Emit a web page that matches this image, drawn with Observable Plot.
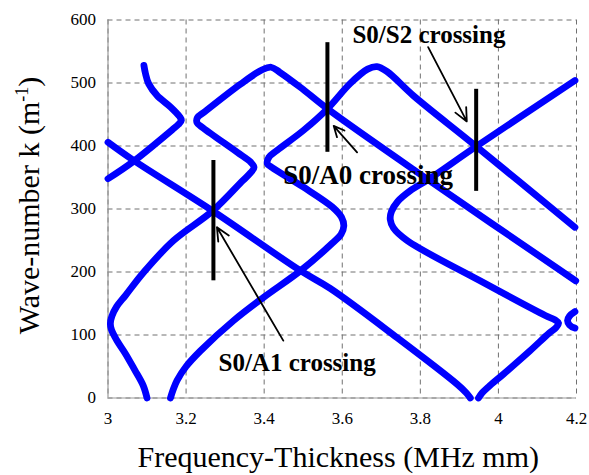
<!DOCTYPE html>
<html><head><meta charset="utf-8">
<script src="https://cdn.jsdelivr.net/npm/d3@7"></script>
<script src="https://cdn.jsdelivr.net/npm/@observablehq/plot@0.6"></script>
<style>body{margin:0;background:#fff;} #chart svg{display:block;}</style>
</head><body><div id="chart"></div>
<script>
const xTicks = [3, 3.2, 3.4, 3.6, 3.8, 4, 4.2];
const yTicks = [0, 100, 200, 300, 400, 500, 600];
const xTitle = "Frequency-Thickness (MHz mm)";
const yTitle = "Wave-number k (m-1)";

// dispersion branches [frequency-thickness, wave-number]
const curveA = [[3.100,0],[3.090,20],[3.068,45],[3.045,70],[3.022,92],[3.009,108],[3.006,118],[3.010,130],[3.022,145],[3.045,163],[3.092,200],[3.168,250],[3.268,297],[3.345,345],[3.366,358],[3.374,366],[3.366,374],[3.331,390],[3.245,428],[3.228,437],[3.229,445],[3.249,455],[3.339,498],[3.395,521],[3.418,525],[3.440,517],[3.493,493],[3.562,459],[3.821,346],[4.198,186]];
const curveB = [[3.092,528],[3.096,515],[3.104,499],[3.126,480],[3.160,462],[3.183,447],[3.188,441],[3.180,434],[3.165,426],[3.064,375],[3.000,348]];
const curveC = [[3.000,406],[3.066,377],[3.268,297],[3.493,202],[3.569,174],[3.740,96],[3.894,22],[3.918,8],[3.928,0]];
const curveD = [[3.160,0],[3.168,15],[3.177,28],[3.200,50],[3.237,75],[3.322,123],[3.399,160],[3.493,202],[3.575,246],[3.597,260],[3.604,273],[3.598,287],[3.575,303],[3.500,335],[3.420,366],[3.408,372],[3.412,382],[3.433,393],[3.501,425],[3.562,459],[3.620,499],[3.665,522],[3.689,526],[3.715,518],[3.782,480],[3.940,401],[4.196,271]];
const curveE = [[4.196,504],[3.940,398],[3.821,347],[3.774,329],[3.742,312],[3.726,296],[3.723,283],[3.731,270],[3.766,250],[3.953,186],[4.120,131],[4.145,124],[4.154,119],[4.148,112],[4.130,103],[4.081,75],[4.013,38],[3.975,18],[3.958,8],[3.949,0]];
const curveF = [[4.196,137],[4.182,130],[4.177,123],[4.182,116],[4.196,111]];

// annotations
const labels = ["S0/A1 crossing", "S0/A0 crossing", "S0/S2 crossing"];
const labelX = [3.283, 3.449, 3.626];
const labelY = [56, 353, 576];
const barX = [3.270, 3.562, 3.943];
const barY1 = [186, 390, 328];
const barY2 = [377, 564, 490];
const arrowX1 = [3.449, 3.638, 3.820];
const arrowY1 = [91, 390, 557];
const arrowX2 = [3.279, 3.578, 3.919];
const arrowY2 = [271, 432, 439];

const curves = [curveA, curveB, curveC, curveD, curveE, curveF];
const rows = curves.flatMap((c, i) => c.map(([x, y]) => ({x, y, id: i})));
const idx = [0, 1, 2];
const serif = "'Liberation Serif', 'Times New Roman', serif";
const labelSizes = [25, 27, 25];

const chart = Plot.plot({
  width: 589, height: 475,
  marginLeft: 107.5, marginRight: 13, marginTop: 19.5, marginBottom: 77.5,
  style: {fontFamily: serif, fontSize: "17px", color: "#000", background: "#fff"},
  x: {domain: [3, 4.2], label: null},
  y: {domain: [0, 600], label: null},
  marks: [
    Plot.gridX(xTicks, {stroke: "#707070", strokeOpacity: 1, strokeDasharray: "5,4"}),
    Plot.gridY(yTicks, {stroke: "#707070", strokeOpacity: 1, strokeDasharray: "5,4"}),
    Plot.ruleX([3], {stroke: "#9a9a9a", strokeWidth: 1.2}),
    Plot.ruleY([0], {stroke: "#9a9a9a", strokeWidth: 1.2}),
    Plot.axisX(xTicks, {tickSize: 0, tickPadding: 14, tickFormat: d => String(d), label: null, fill: "#000"}),
    Plot.axisY(yTicks, {tickSize: 0, tickPadding: 12, tickFormat: d => String(d), label: null, fill: "#000"}),
    Plot.line(rows, {x: "x", y: "y", z: "id", curve: "catmull-rom", stroke: "#0000ff", strokeWidth: 6.8, strokeLinecap: "round", strokeLinejoin: "round"}),
    Plot.ruleX(idx, {x: i => barX[i], y1: i => barY1[i], y2: i => barY2[i], stroke: "#000", strokeWidth: 4}),
    Plot.arrow(idx, {x1: i => arrowX1[i], y1: i => arrowY1[i], x2: i => arrowX2[i], y2: i => arrowY2[i], stroke: "#000", strokeWidth: 1.8, headLength: 12, headAngle: 50}),
    ...idx.map(i => Plot.text([labels[i]], {x: () => labelX[i], y: () => labelY[i], text: d => d, textAnchor: "start", lineAnchor: "middle", fontWeight: "bold", fontSize: labelSizes[i], fill: "#000"})),
    Plot.text([xTitle], {frameAnchor: "bottom", dx: -4, dy: 59, textAnchor: "middle", lineAnchor: "middle", fontSize: 30, fill: "#000"}),
    Plot.text([yTitle], {frameAnchor: "left", dx: -79, dy: -3.5, rotate: -90, textAnchor: "middle", lineAnchor: "middle", fontSize: 30, fill: "#000"})
  ]
});

// superscript for the unit m^-1
const yt = [...chart.querySelectorAll("text")].find(e => e.textContent === yTitle);
if (yt) {
  const ns = "http://www.w3.org/2000/svg";
  yt.textContent = "Wave-number k (m";
  const sup = document.createElementNS(ns, "tspan");
  sup.setAttribute("dy", "-11"); sup.setAttribute("font-size", "18"); sup.textContent = "-1";
  const close = document.createElementNS(ns, "tspan");
  close.setAttribute("dy", "11"); close.textContent = ")";
  yt.appendChild(sup); yt.appendChild(close);
}
document.getElementById("chart").appendChild(chart);
</script>
</body></html>
